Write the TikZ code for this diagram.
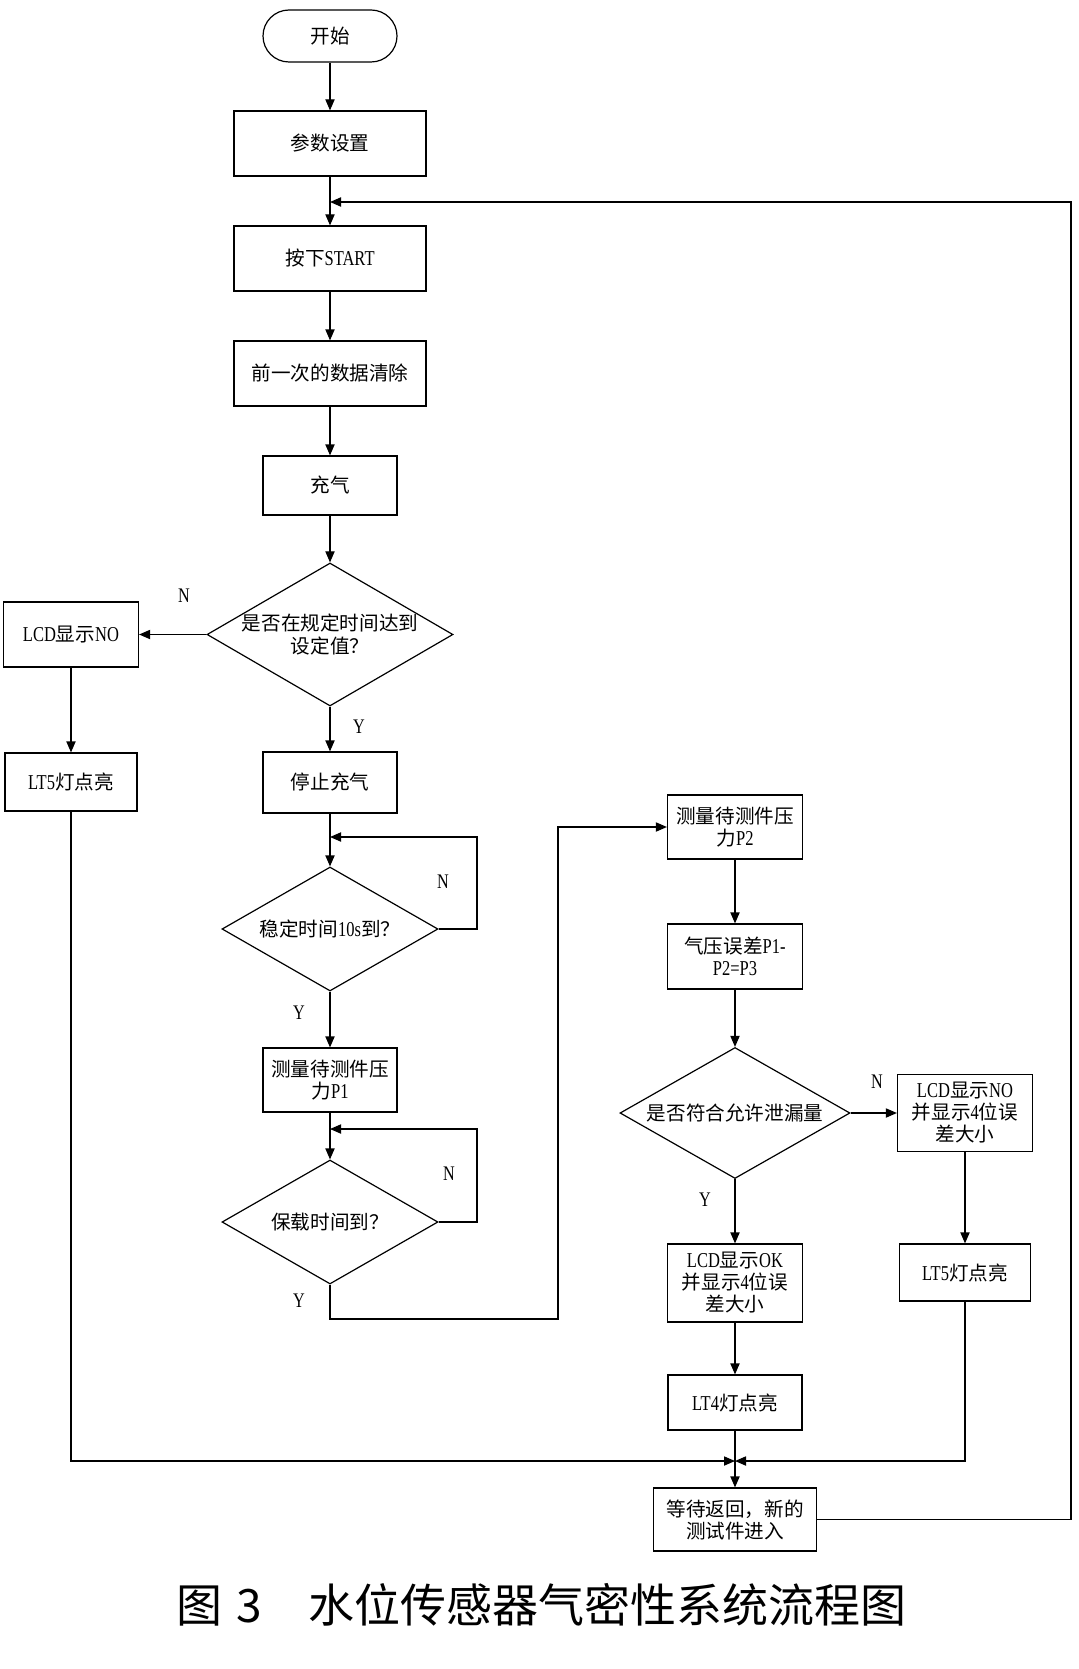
\documentclass[tikz,border=0pt]{standalone}
\usepackage{fontspec}
\setmainfont{Liberation Serif}[FakeStretch=0.78,Scale=1.08]
\newfontfamily\cjk{Noto Sans CJK SC}
\usetikzlibrary{shapes.geometric,arrows.meta}
\newcommand{\zh}[1]{{\cjk #1}}

\begin{document}
\begin{tikzpicture}[x=0.5pt,y=-0.5pt,line width=0.6pt,
    box/.style={draw,inner sep=0pt,align=center,font=\fontsize{9.8}{11}\selectfont},
    term/.style={box,rounded corners=13pt,minimum width=67pt,minimum height=26pt},
    decision/.style={draw,diamond,inner sep=0pt},
    dtext/.style={align=center,inner sep=0pt,font=\fontsize{9.8}{11.7}\selectfont},
    lbl/.style={font=\fontsize{9.6}{11}\selectfont,inner sep=0pt},
    arrow/.style={-{Triangle[length=5.5pt,width=4.6pt]}}]
    \useasboundingbox (0,0) rectangle (1079,1669);

    % main column
    \node[term] (start) at (330,36) {\zh{开始}};
    \node[box,minimum width=96pt,minimum height=32.5pt] (set) at (330,143.5) {\zh{参数设置}};
    \node[box,minimum width=96pt,minimum height=32.5pt] (press) at (330,258.5) {\zh{按下}START};
    \node[box,minimum width=96pt,minimum height=32.5pt] (clear) at (330,373.5) {\zh{前一次的数据清除}};
    \node[box,minimum width=67pt,minimum height=29.5pt] (charge) at (330,485.5) {\zh{充气}};
    \node[decision,minimum width=123pt,minimum height=71.5pt,
      label={[dtext]center:{\zh{是否在规定时间达到}\\\zh{设定值？}}}] (d1) at (330,634.5) {};
    \node[box,minimum width=67pt,minimum height=30.5pt] (stop) at (330,782.5) {\zh{停止充气}};
    \node[decision,minimum width=108pt,minimum height=62pt,
      label={[dtext]center:{\zh{稳定时间}10s\zh{到？}}}] (d2) at (330,929) {};
    \node[box,minimum width=67pt,minimum height=32pt] (p1) at (330,1080) {\zh{测量待测件压}\\\zh{力}P1};
    \node[decision,minimum width=108pt,minimum height=62pt,
      label={[dtext]center:{\zh{保载时间到？}}}] (d3) at (330,1222) {};

    % left column
    \node[box,minimum width=67.5pt,minimum height=32.5pt] (lcdL) at (71,634.5) {LCD\zh{显示}NO};
    \node[box,minimum width=66pt,minimum height=29pt] (lt5L) at (71,782) {LT5\zh{灯点亮}};

    % right columns
    \node[box,minimum width=67.5pt,minimum height=32pt] (p2) at (735,827) {\zh{测量待测件压}\\\zh{力}P2};
    \node[box,minimum width=67.5pt,minimum height=32.5pt] (diff) at (735,956.5) {\zh{气压误差}P1-\\P2=P3};
    \node[decision,minimum width=115pt,minimum height=65.5pt,
      label={[dtext]center:{\zh{是否符合允许泄漏量}}}] (d4) at (735,1113) {};
    \node[box,minimum width=67.5pt,minimum height=38.5pt] (nor) at (965,1113) {LCD\zh{显示}NO\\\zh{并显示}4\zh{位误}\\\zh{差大小}};
    \node[box,minimum width=65.5pt,minimum height=28.5pt] (lt5R) at (965,1272.5) {LT5\zh{灯点亮}};
    \node[box,minimum width=67.5pt,minimum height=39pt] (ok) at (735,1283) {LCD\zh{显示}OK\\\zh{并显示}4\zh{位误}\\\zh{差大小}};
    \node[box,minimum width=67pt,minimum height=27.5pt] (lt4) at (735,1402.5) {LT4\zh{灯点亮}};
    \node[box,minimum width=81.5pt,minimum height=31.5pt] (wait) at (735,1519.5) {\zh{等待返回，新的}\\\zh{测试件进入}};

    % branch labels
    \node[lbl] (n1) at (184,596) {N};
    \node[lbl] (y1) at (359,727) {Y};
    \node[lbl] (n2) at (443,882) {N};
    \node[lbl] (y2) at (299,1013) {Y};
    \node[lbl] (n3) at (449,1174) {N};
    \node[lbl] (y3) at (299,1301) {Y};
    \node[lbl] (n4) at (877,1082) {N};
    \node[lbl] (y4) at (705,1200) {Y};

    % corner points
    \coordinate (fb) at (330,202);
    \coordinate (fbR) at (1071,202);
    \coordinate (loop1) at (330,837);
    \coordinate (loopR1) at (477,837);
    \coordinate (loop2) at (330,1129);
    \coordinate (loopR2) at (477,1129);
    \coordinate (yb) at (558,1319);
    \coordinate (mg) at (735,1461);

    % connectors
    \draw[arrow] (start) -- (set);
    \draw[arrow] (set) -- (press);
    \draw[arrow] (press) -- (clear);
    \draw[arrow] (clear) -- (charge);
    \draw[arrow] (charge) -- (d1);
    \draw[arrow] (d1) -- (lcdL);
    \draw[arrow] (lcdL) -- (lt5L);
    \draw[arrow] (d1) -- (stop);
    \draw[arrow] (stop) -- (d2);
    \draw[arrow] (d2.east) -| (loopR1) -- (loop1);
    \draw[arrow] (d2) -- (p1);
    \draw[arrow] (p1) -- (d3);
    \draw[arrow] (d3.east) -| (loopR2) -- (loop2);
    \draw[arrow] (d3.south) |- (yb) |- (p2.west);
    \draw[arrow] (p2) -- (diff);
    \draw[arrow] (diff) -- (d4);
    \draw[arrow] (d4) -- (nor);
    \draw[arrow] (d4) -- (ok);
    \draw[arrow] (nor) -- (lt5R);
    \draw[arrow] (ok) -- (lt4);
    \draw[arrow] (lt5L) |- (mg);
    \draw[arrow] (lt5R) |- (mg);
    \draw[arrow] (lt4) -- (wait);
    \draw[arrow] (wait.east) -| (fbR) -- (fb);

    % caption
    \node[font=\cjk\fontsize{23}{23}\selectfont] (cap) at (541.5,1605) {图\hspace{7pt}3\quad 水位传感器气密性系统流程图};
  \end{tikzpicture}
\end{document}
